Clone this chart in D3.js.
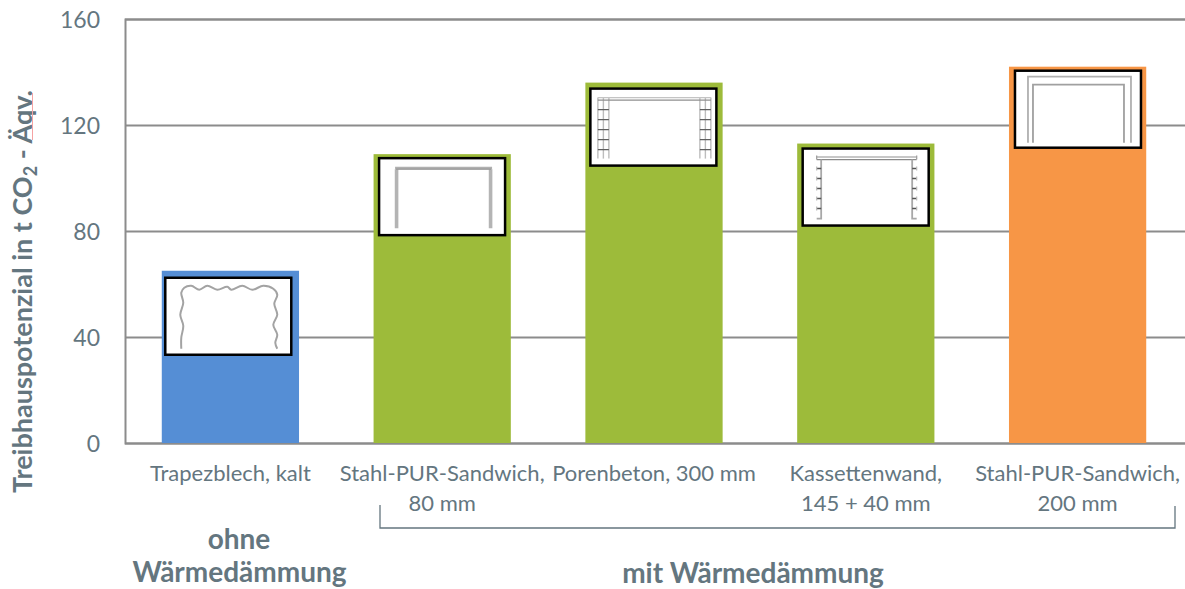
<!DOCTYPE html>
<html>
<head>
<meta charset="utf-8">
<script src="https://cdn.jsdelivr.net/npm/d3@7"></script>
<style>
  html, body { margin: 0; padding: 0; background: #fff; }
  text { font-family: Lato, "Open Sans", sans-serif; fill: #64767f; }
</style>
</head>
<body>
<div id="chart"></div>
<script>
// values
var categories = ["Trapezblech, kalt", "Stahl-PUR-Sandwich, 80 mm", "Porenbeton, 300 mm", "Kassettenwand, 145 + 40 mm", "Stahl-PUR-Sandwich, 200 mm"];
var categoryLines = [["Trapezblech, kalt"], ["Stahl-PUR-Sandwich,", "80 mm"], ["Porenbeton, 300 mm"], ["Kassettenwand,", "145 + 40 mm"], ["Stahl-PUR-Sandwich,", "200 mm"]];
var values = [65, 109, 136, 113, 142];
var barColors = ["#558ed5", "#9dbb3a", "#9dbb3a", "#9dbb3a", "#f79646"];
var yTicks = [0, 40, 80, 120, 160];
var wallTypes = ["trapez", "sandwich", "porenbeton", "kassette", "sandwichThick"];

var width = 1185, height = 589;
var margin = {top: 19, right: 0, bottom: 146, left: 125};

var svg = d3.select("#chart").append("svg")
    .attr("width", width)
    .attr("height", height)
    .style("display", "block");

var x = d3.scaleBand()
    .domain(categories)
    .range([margin.left - 0.5, 1183.5])
    .paddingInner(0.352)
    .paddingOuter(0.176);

var y = d3.scaleLinear()
    .domain([0, 160])
    .range([height - margin.bottom, margin.top]);

var lineColor = "#8c8c8c";

// gridlines + y axis
var yAxis = svg.append("g")
    .attr("transform", "translate(" + margin.left + ",0)")
    .call(d3.axisLeft(y).tickValues(yTicks).tickSize(-(width - margin.left)).tickPadding(25));
yAxis.select(".domain").attr("stroke", lineColor).attr("stroke-width", 2);
yAxis.selectAll("line").attr("stroke", lineColor).attr("stroke-width", 2);
yAxis.selectAll("text").style("font-size", "23px").attr("dy", "0.36em");

// bars
svg.selectAll("rect.bar")
    .data(categories)
    .enter()
    .append("rect")
    .attr("class", "bar")
    .attr("x", function(d) { return x(d); })
    .attr("y", function(d, i) { return y(values[i]); })
    .attr("width", x.bandwidth())
    .attr("height", function(d, i) { return y(0) - y(values[i]); })
    .attr("fill", function(d, i) { return barColors[i]; });

// category labels
var xAxis = svg.append("g")
    .attr("transform", "translate(0," + y(0) + ")")
    .call(d3.axisBottom(x).tickSize(0).tickFormat(""));
xAxis.select(".domain").remove();
xAxis.selectAll(".tick text").each(function(d, i) {
    var t = d3.select(this)
        .attr("y", 0)
        .attr("dy", null)
        .style("font-size", "22px");
    categoryLines[i].forEach(function(line, k) {
        t.append("tspan").attr("x", 0).attr("y", 38 + k * 30).text(line);
    });
});

// little wall sections sitting on the bars
var curve = d3.line().curve(d3.curveCatmullRom);
var insetOffset = [[3.5, 7], [5.5, 4], [5, 6], [5.5, 5], [6, 4]];

function frame(g, d, color, w) {
    g.append("path").attr("d", d).attr("fill", "none").attr("stroke", color || "#a6a6a6").attr("stroke-width", w || 1.5);
}

var drawWall = {
    trapez: function(g) {
        var pts = [[16, 71], [16, 60], [18, 48], [15, 37], [18, 25], [16, 15], [19, 10], [26, 8], [34, 12], [42, 8],
            [52, 12], [62, 9], [66, 12], [77, 8], [87, 12], [98, 8], [108, 11], [112, 17], [109, 26], [112, 37], [108, 47], [112, 57], [110, 65], [112, 71]];
        frame(g, curve(pts), "#a3a3a3", 2);
    },
    sandwich: function(g) {
        frame(g, "M17.5 70V11M111.5 70V11", "#b4b4b4", 3.6);
        frame(g, "M16 10H113", "#b0b0b0", 2.6);
        frame(g, "M17 11H112", "#8f8f8f", 1);
    },
    porenbeton: function(g) {
        [7.5, 13, 18.5, 109.5, 115, 120.5].forEach(function(px) {
            frame(g, "M" + px + " 9V70", "#bdbdbd", 1.4);
        });
        frame(g, "M7.5 9H120.5", "#c4c4c4", 1.4);
        frame(g, "M7.5 11.5H120.5", "#8f8f8f", 1.4);
        [21, 31, 41, 51, 61].forEach(function(py) {
            frame(g, "M7.5 " + py + "H18.5M109.5 " + py + "H120.5", "#5f5f5f", 1.2);
        });
    },
    kassette: function(g) {
        frame(g, "M14 8.5H114", "#b5b5b5", 1.6);
        frame(g, "M14 11H114", "#8a8a8a", 1.3);
        frame(g, "M14 7V11M114 7V11", "#a0a0a0", 1.3);
        frame(g, "M18.5 11V70H14M109.5 11V70H114", "#a8a8a8", 1.8);
        [20, 30, 40, 50, 60].forEach(function(py) {
            frame(g, "M14 " + py + "H18.5M109.5 " + py + "H114", "#555", 1.4);
            frame(g, "M14 " + (py - 2) + "V" + (py + 2) + "M114 " + (py - 2) + "V" + (py + 2), "#bbb", 1.2);
        });
    },
    sandwichThick: function(g) {
        frame(g, "M13 72V6H116V72", "#b0b0b0", 1.8);
        frame(g, "M18 72V14H109V72", "#a0a0a0", 1.8);
    }
};

categories.forEach(function(c, i) {
    var g = svg.append("g")
        .attr("transform", "translate(" + (x(c) + insetOffset[i][0]) + "," + (y(values[i]) + insetOffset[i][1]) + ")");
    g.append("rect")
        .attr("width", 126)
        .attr("height", 77)
        .attr("fill", "#fff")
        .attr("stroke", "#000")
        .attr("stroke-width", 2.5);
    drawWall[wallTypes[i]](g);
});

// y title with subscript
var yTitle = svg.append("text")
    .attr("transform", "translate(32,493) rotate(-90)")
    .style("font-size", "27px")
    .style("font-weight", "700");
yTitle.append("tspan").text("Treibhauspotenzial in t CO");
yTitle.append("tspan").attr("dy", 5).style("font-size", "18px").text("2");
yTitle.append("tspan").attr("dy", -5).text(" - Äqv.");

// spell check squiggle from the original
svg.append("line")
    .attr("x1", 32.5).attr("x2", 32.5)
    .attr("y1", 93).attr("y2", 140)
    .attr("stroke", "#f5a3a3")
    .attr("stroke-width", 1);

// group bracket + group labels
svg.append("path")
    .attr("d", "M380 505V528H1175V506")
    .attr("fill", "none")
    .attr("stroke", "#64767f")
    .attr("stroke-width", 1.3);

var groupLabels = [
    {text: "ohne", x: 239, y: 549},
    {text: "Wärmedämmung", x: 239.5, y: 582},
    {text: "mit Wärmedämmung", x: 753, y: 583}
];
svg.selectAll("text.group")
    .data(groupLabels)
    .enter()
    .append("text")
    .attr("class", "group")
    .attr("x", function(d) { return d.x; })
    .attr("y", function(d) { return d.y; })
    .attr("text-anchor", "middle")
    .style("font-size", "28px")
    .style("font-weight", "700")
    .text(function(d) { return d.text; });
</script>
</body>
</html>
